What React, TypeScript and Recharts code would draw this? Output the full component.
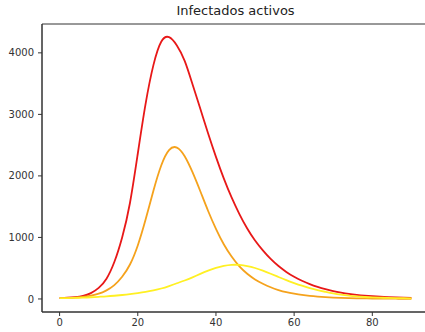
import { LineChart, Line, XAxis, YAxis, ReferenceArea } from 'recharts';

const title = 'Infectados activos';

const days = [
  0, 2, 4, 6, 8, 10, 12, 14, 16, 18, 20, 22, 24, 26, 28, 30, 32, 34, 36, 38, 40, 42, 44,
  46, 48, 50, 52, 54, 56, 58, 60, 62, 64, 66, 68, 70, 72, 74, 76, 78, 80, 82, 84, 86, 88, 90,
];

const redSeries = [
  15, 20, 30, 50, 95, 180, 330, 600, 1000, 1560, 2360, 3170, 3800, 4180, 4255, 4120, 3870,
  3490, 3090, 2690, 2310, 1960, 1650, 1380, 1145, 950, 790, 650, 535, 440, 360, 295, 240,
  195, 158, 128, 104, 84, 68, 55, 45, 37, 30, 25, 21, 18,
];

const orangeSeries = [
  12, 15, 22, 35, 55, 85, 140, 225, 360, 560, 870, 1290, 1760, 2170, 2420, 2460, 2320, 2060,
  1750, 1430, 1140, 890, 690, 530, 410, 318, 248, 190, 145, 110, 85, 65, 50, 39, 30, 23, 18,
  14, 11, 9, 7, 6, 5, 4, 3, 3,
];

const yellowSeries = [
  12, 14, 18, 22, 28, 35, 42, 52, 64, 78, 95, 115, 140, 170, 210, 255, 300, 352, 408, 460,
  505, 538, 555, 553, 535, 503, 460, 410, 357, 305, 258, 215, 177, 144, 116, 90, 69, 53, 41,
  32, 26, 21, 17, 14, 12, 10,
];

const xTicks = [0, 20, 40, 60, 80];
const yTicks = [0, 1000, 2000, 3000, 4000];

const data = days.map((d, i) => ({
  day: d,
  red: redSeries[i],
  orange: orangeSeries[i],
  yellow: yellowSeries[i],
}));

const font = '"DejaVu Sans", sans-serif';
const tickStyle = { fontSize: 10, fill: '#333', fontFamily: font };

export default function App() {
  return (
    <div style={{ position: 'fixed', left: 0, top: 0, width: 425, height: 332, overflow: 'hidden', background: '#fff' }}>
      <div
        style={{
          position: 'absolute',
          left: 42,
          width: 387,
          top: 3,
          textAlign: 'center',
          fontFamily: font,
          fontSize: 13,
          color: '#222',
        }}
      >
        {title}
      </div>
      <LineChart width={430} height={332} data={data} margin={{ top: 24, right: 1, left: 0, bottom: 0 }}>
        <XAxis
          dataKey="day"
          type="number"
          domain={[-4.5, 94.5]}
          ticks={xTicks}
          allowDataOverflow
          height={20}
          tickSize={4}
          tickMargin={3}
          stroke="#333"
          tick={tickStyle}
        />
        <YAxis
          type="number"
          domain={[-212, 4469]}
          ticks={yTicks}
          allowDataOverflow
          width={42}
          tickSize={4}
          tickMargin={4}
          stroke="#333"
          tick={tickStyle}
        />
        <ReferenceArea x1={-4.5} x2={94.5} y1={-212} y2={4469} fill="none" stroke="#333" strokeWidth={1} />
        <Line type="natural" dataKey="red" stroke="#e81818" strokeWidth={1.8} dot={false} isAnimationActive={false} />
        <Line type="natural" dataKey="orange" stroke="#f5a21c" strokeWidth={1.8} dot={false} isAnimationActive={false} />
        <Line type="natural" dataKey="yellow" stroke="#fff023" strokeWidth={1.8} dot={false} isAnimationActive={false} />
      </LineChart>
    </div>
  );
}
